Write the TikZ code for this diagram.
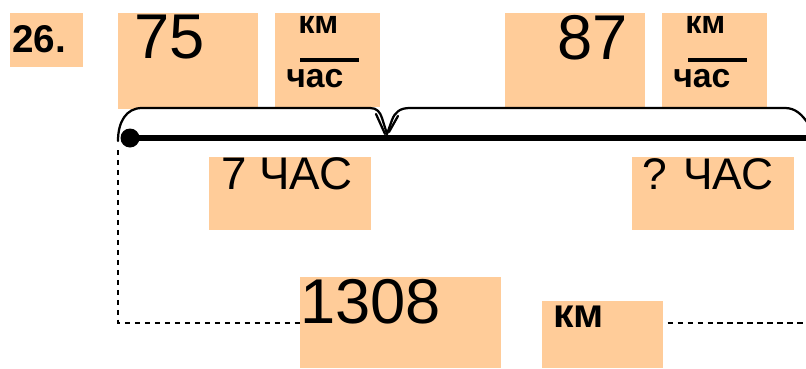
\documentclass[tikz,border=0pt]{standalone}
\usepackage{fontspec}
\setmainfont{Liberation Sans}
\usetikzlibrary{calc}
\definecolor{cPeach}{RGB}{255,204,153}
\tikzset{
	box/.style      ={rectangle, fill=cPeach, inner sep=0pt, anchor=north west},
	sz/.style 2 args={minimum width=#1*0.025cm, minimum height=#2*0.025cm},
	txt/.style      ={anchor=base west, inner sep=0pt},
	big/.style      ={txt, font=\fontsize{45}{45}\selectfont},
	mid/.style      ={txt, font=\fontsize{32.5}{32.5}\selectfont},
	unit/.style     ={txt, font=\bfseries\fontsize{23}{23}\selectfont},
	fracline/.style ={line width=2.6pt},
	brace/.style    ={line width=1.6pt, line cap=round, line join=round},
	axis/.style     ={line width=3.9pt},
	dotn/.style     ={circle, fill=black, minimum size=19*0.025cm, inner sep=0pt},
	guide/.style    ={line width=1.5pt, dash pattern=on 3.9pt off 3.2pt},
}
\begin{document}
\begin{tikzpicture}[x=0.025cm, y=-0.025cm]
	\useasboundingbox (0,0) rectangle (806,368);
	% boxes
	\node[box, sz={73}{54}]   (b26)   at (10,13)   {};
	\node[box, sz={140}{96}]  (b75)   at (118,13)  {};
	\node[box, sz={105}{94}]  (bkmA)  at (275,13)  {};
	\node[box, sz={140}{94}]  (b87)   at (505,13)  {};
	\node[box, sz={105}{94}]  (bkmB)  at (662,13)  {};
	\node[box, sz={162}{73}]  (bsev)  at (209,157) {};
	\node[box, sz={162}{73}]  (bques) at (632,157) {};
	\node[box, sz={201}{91}]  (btot)  at (300,277) {};
	\node[box, sz={121}{67}]  (bkm)   at (542,301) {};
	% texts
	\node[txt, font=\bfseries\fontsize{27.5}{27.5}\selectfont] (t26) at (12,52) {26.};
	\node[big] (t75) at (134,58) {75};
	\node[big] (t87) at (557,59) {87};
	\node[unit] (kmA)  at (298,33) {км};
	\node[unit, font=\bfseries\fontsize{24}{24}\selectfont] (chA) at (286,87) {час};
	\node[unit] (kmB)  at (685,33) {км};
	\node[unit, font=\bfseries\fontsize{24}{24}\selectfont] (chB) at (673,87) {час};
	\draw[fracline] (300,60) -- (359,60);
	\draw[fracline] (688,60) -- (747,60);
	\node[mid] (tsev)  at (221,189) {7 ЧАС};
	\node[mid, font=\fontsize{31.5}{31.5}\selectfont] (tques) at (642,189) {? ЧАС};
	\node[big, font=\fontsize{45}{45}\selectfont] (ttot) at (300,323) {1308};
	\node[unit, font=\bfseries\fontsize{29}{29}\selectfont] (tkm) at (553,327) {км};
	% braces
	\draw[brace] (118,141) .. controls (118,122) and (126,108) .. (142,108) -- (370,108)
		.. controls (377,108) and (380,112) .. (382,118) -- (387,134);
	\draw[brace] (387,134) -- (392,120) .. controls (395,112) and (400,108) .. (410,108)
		-- (785,108) .. controls (795,108) and (802,114) .. (809,125);
	\draw[brace] (376,114) -- (385,134);
	\draw[brace] (389,132) -- (398,116);
	% segment
	\node[dotn] (start) at (130,138) {};
	\coordinate (lineend) at (806,138);
	\draw[axis] (start.center) -- (lineend);
	% dashed
	\coordinate (dtop) at (118,150);
	\coordinate (dend) at (806,323);
	\draw[guide] (dtop) |- (btot.west);
	\draw[guide] ($(bkm.east |- dend)+(4,0)$) -- (dend);
\end{tikzpicture}
\end{document}
